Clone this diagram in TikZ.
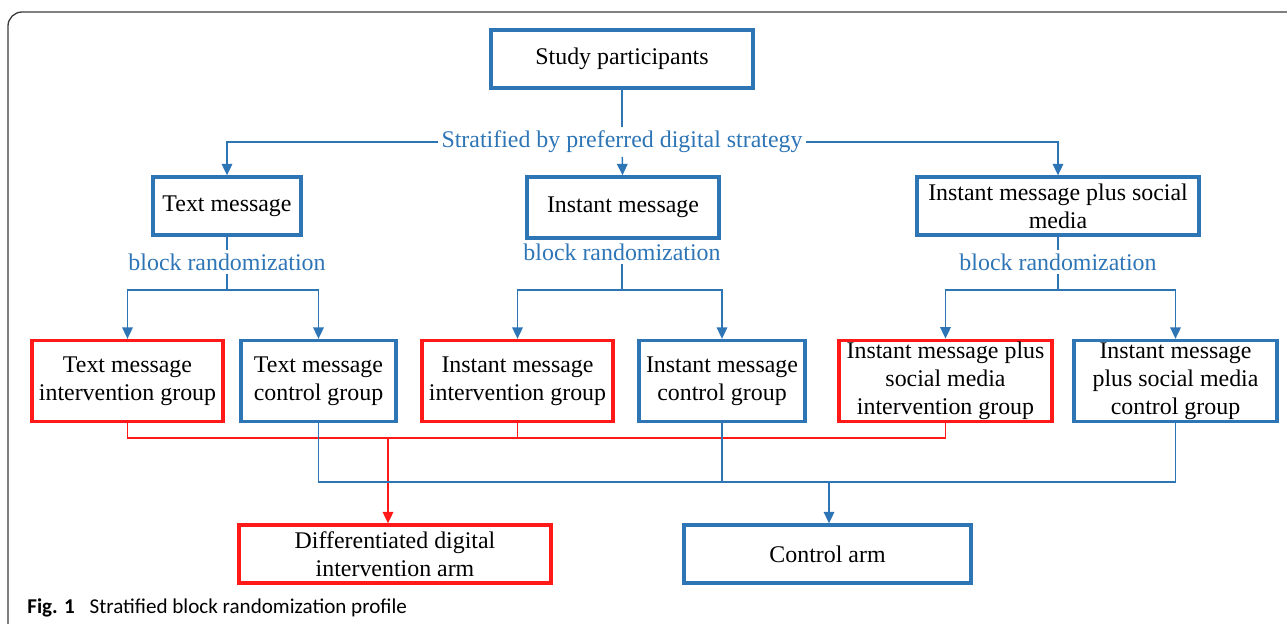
\documentclass[tikz,border=0pt]{standalone}
\usepackage{fontspec}
\setmainfont{Liberation Serif}
\newfontfamily\capfont{Carlito}
\usetikzlibrary{arrows.meta, positioning}
\definecolor{boxblue}{RGB}{46,117,182}
\definecolor{boxred}{RGB}{255,25,25}
\definecolor{framegray}{RGB}{60,60,60}

\begin{document}
\begin{tikzpicture}[
  x=0.02cm, y=-0.02cm,
  box/.style={rectangle, draw=#1, line width=1.9pt, align=center, inner sep=1pt,
    font=\fontsize{13.6}{16}\selectfont, minimum height=1.16cm},
  lbl/.style={text=boxblue, inner sep=2pt, font=\fontsize{13.6}{16}\selectfont},
  link/.style={draw=#1, line width=0.85pt},
  arrow/.style={link=#1, -{Triangle[length=6.5pt,width=6pt]}}
]
\useasboundingbox (0,0) rectangle (1287,624);
\begin{scope}
  \clip (0,0) rectangle (1287,624);
  \draw[framegray, line width=0.75pt, rounded corners=8pt] (8,12) rectangle (1320,660);
\end{scope}

% Top level
\node[box=boxblue, minimum width=5.24cm] (study) at (622,59) {Study participants};
\node[lbl] (strat) at (622,142) {Stratified by preferred digital strategy};

% Strata
\node[box=boxblue, minimum width=2.96cm] (text) at (227,206) {Text message};
\node[box=boxblue, minimum width=3.84cm, minimum height=1.22cm] (inst) at (623,207.5) {Instant message};
\node[box=boxblue, minimum width=5.64cm] (imsm) at (1058,206) {Instant message plus social\\media};

\node[lbl] (br1) at (227,262) {block randomization};
\node[lbl] (br2) at (622,252) {block randomization};
\node[lbl] (br3) at (1058,262) {block randomization};

% Groups
\node[box=boxred, minimum width=3.82cm, minimum height=1.62cm] (tmi) at (127.5,381) {Text message\\intervention group};
\node[box=boxblue, minimum width=3.10cm, minimum height=1.62cm] (tmc) at (318.5,381) {Text message\\control group};
\node[box=boxred, minimum width=3.82cm, minimum height=1.62cm] (imi) at (517.5,381) {Instant message\\intervention group};
\node[box=boxblue, minimum width=3.32cm, minimum height=1.62cm] (imc) at (722,381) {Instant message\\control group};
\node[box=boxred, minimum width=4.26cm, minimum height=1.62cm] (smi) at (945.5,381) {Instant message plus\\social media\\intervention group};
\node[box=boxblue, minimum width=4.06cm, minimum height=1.62cm] (smc) at (1175.5,381) {Instant message\\plus social media\\control group};

% Arms
\node[box=boxred, minimum width=6.24cm] (diff) at (395,554) {Differentiated digital\\intervention arm};
\node[box=boxblue, minimum width=5.74cm] (ctrl) at (827.5,554) {Control arm};

% Stratification
\draw[link=boxblue] (study) -- (strat);
\draw[arrow=boxblue] (strat.west) -| (text.north);
\draw[arrow=boxblue] (strat) -- (inst);
\draw[arrow=boxblue] (strat.east) -| (imsm.north);

% Randomization
\coordinate (s1) at (227,290);
\coordinate (s2) at (622,290);
\coordinate (s3) at (1058,290);
\draw[link=boxblue] (text) -- (br1);
\draw[link=boxblue] (inst) -- (br2);
\draw[link=boxblue] (imsm) -- (br3);
\draw[arrow=boxblue] (br1) -- (s1) -| (tmi.north);
\draw[arrow=boxblue] (s1) -| (tmc.north);
\draw[arrow=boxblue] (br2) -- (s2) -| (imi.north);
\draw[arrow=boxblue] (s2) -| (imc.north);
\draw[arrow=boxblue] (br3) -- (s3) -| (smi.north);
\draw[arrow=boxblue] (s3) -| (smc.north);

% Intervention bus
\coordinate (rbus) at (388,438);
\draw[link=boxred] (tmi.south) |- (rbus) -| (smi.south);
\draw[link=boxred] (imi.south) -- (imi.south |- rbus);
\draw[arrow=boxred] (rbus) -- (rbus |- diff.north);

% Control bus
\coordinate (bbus) at (829,482);
\draw[link=boxblue] (tmc.south) |- (bbus) -| (smc.south);
\draw[link=boxblue] (imc.south) -- (imc.south |- bbus);
\draw[arrow=boxblue] (bbus) -- (bbus |- ctrl.north);

% Caption
\node[anchor=base west, inner sep=0pt, font=\capfont\fontsize{12}{14}\selectfont] (cap) at (27,613)
  {\textbf{Fig. 1}\hspace{0.7em}Stratified block randomization profile};
\end{tikzpicture}
\end{document}
